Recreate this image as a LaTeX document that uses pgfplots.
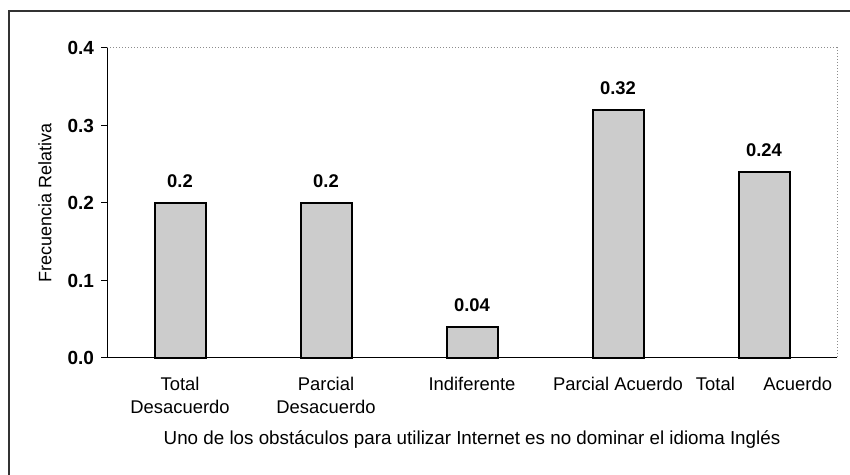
\documentclass[border=0pt]{standalone}
\usepackage{fontspec}
\setmainfont{Liberation Sans}
\usepackage{pgfplots}
\pgfplotsset{compat=1.18}

\begin{document}
\begin{tikzpicture}
  \useasboundingbox (0,0) rectangle (425pt,237.5pt);
  % frame of the chart area (only left and top edges are visible)
  \draw[line width=0.7pt, black!80] (4.5pt,0) -- (4.5pt,232pt) -- (425pt,232pt);
  \begin{axis}[
      at={(53.5pt,58.5pt)}, anchor=south west,
      scale only axis,
      width=365pt, height=155pt,
      ybar, bar width=25.5pt,
      xmin=-0.5, xmax=4.5,
      ymin=0, ymax=0.4,
      ytick={0,0.1,0.2,0.3,0.4},
      yticklabels={0.0,0.1,0.2,0.3,0.4},
      xtick={0,1,2,3,4},
      xticklabels={Total\\Desacuerdo, Parcial\\Desacuerdo, Indiferente, Parcial Acuerdo, Total\quad\ \ Acuerdo},
      xticklabel style={align=center, font=\fontsize{9.2}{11.5}\selectfont, yshift=-3pt},
      yticklabel style={font=\fontsize{9.5}{11}\selectfont\bfseries},
      major x tick style={draw=none},
      extra x ticks={0.5,1.5,2.5,3.5,4.5},
      extra x tick labels={},
      extra x tick style={major tick length=4pt, tick style={draw=black}},
      tick align=outside, major tick length=3pt,
      axis x line*=bottom, axis y line*=left,
      axis line style={line width=0.5pt, -},
      tick style={line width=0.5pt, black},
      xlabel={Uno de los obstáculos para utilizar Internet es no dominar el idioma Inglés},
      xlabel style={at={([yshift=-41pt]axis description cs:0.5,0)}, anchor=center,
        font=\fontsize{9.4}{11}\selectfont},
      ylabel={Frecuencia Relativa},
      ylabel style={at={([xshift=-31pt]axis description cs:0,0.5)}, anchor=center,
        font=\fontsize{9}{11}\selectfont},
      point meta=explicit symbolic,
      nodes near coords,
      nodes near coords style={font=\fontsize{9.2}{11}\selectfont\bfseries,
        anchor=south, yshift=4pt},
      clip=false,
    ]
    \addplot[fill=black!20, draw=black, line width=1pt] coordinates {
      (0,0.2) [0.2] (1,0.2) [0.2] (2,0.04) [0.04] (3,0.32) [0.32] (4,0.24) [0.24]
    };
    \draw[black!45, densely dotted, line width=0.5pt]
      (rel axis cs:0,1) -- (rel axis cs:1,1) -- (rel axis cs:1,0);
  \end{axis}
\end{tikzpicture}
\end{document}
